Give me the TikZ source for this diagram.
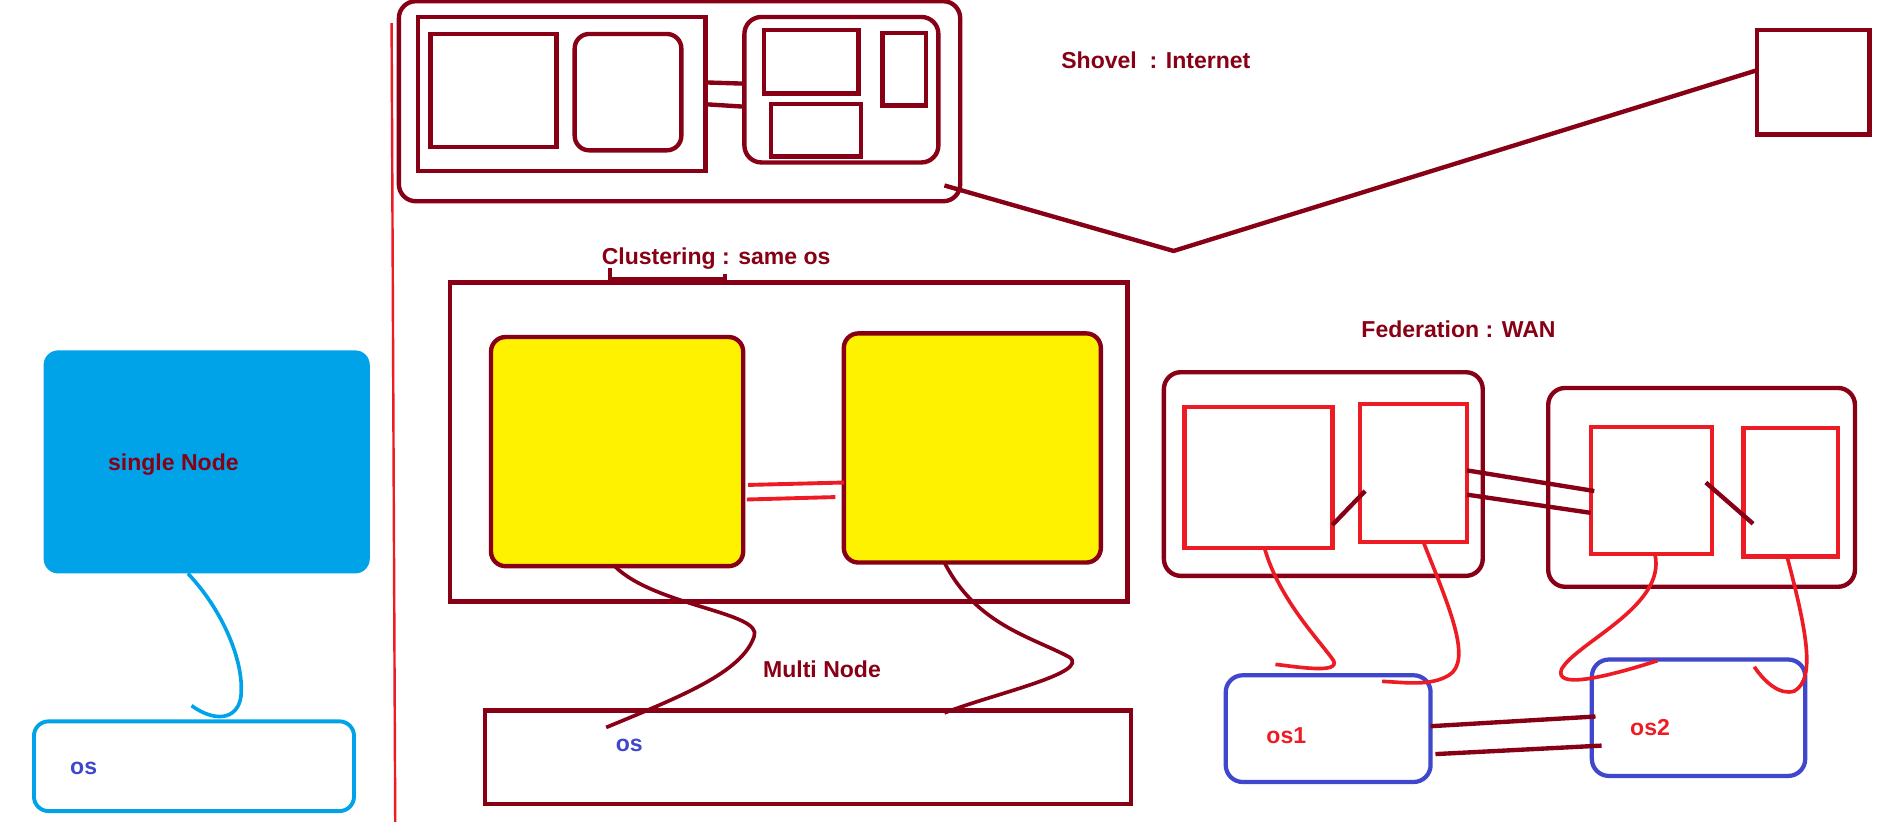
\documentclass[tikz,border=0pt]{standalone}
\usepackage{fontspec}
\setmainfont{Liberation Sans}
\usetikzlibrary{fit}
\definecolor{dkred}{HTML}{880015}
\definecolor{brred}{HTML}{ED1C24}
\definecolor{ylw}{HTML}{FFF200}
\definecolor{ltblue}{HTML}{00A2E8}
\definecolor{dkblue}{HTML}{3F48CC}
\tikzset{
  fitbox/.style={inner sep=0pt, outer sep=0pt},
  dbox/.style={fitbox, draw=dkred, line width=1.8pt},
  rbox/.style={fitbox, draw=brred, line width=1.75pt},
  bbox/.style={fitbox, draw=dkblue, line width=1.75pt, rounded corners=7pt},
  round/.style={rounded corners=7pt},
  dline/.style={draw=dkred, line width=1.8pt},
  rline/.style={draw=brred, line width=1.5pt},
  lbl/.style={font=\fontsize{9.5}{11}\selectfont\bfseries, inner sep=0pt},
}
\begin{document}
\begin{tikzpicture}[x=0.5pt,y=-0.5pt]
\useasboundingbox (0,0) rectangle (1568,678);
\fill[white] (0,0) rectangle (1568,678);

% red divider
\coordinate (divtop) at (323,19);
\coordinate (divbot) at (326,678);
\draw[brred, line width=1pt] (divtop) -- (divbot);

% ---------- Shovel ----------
\node[dbox, round, fit={(329,1) (792,166)}] (top) {};
\node[dbox, fit={(345,14) (582,141)}] (topL) {};
\node[dbox, fit={(355,28) (459,121)}] (topLa) {};
\node[dbox, rounded corners=6pt, fit={(474,28) (562,124)}] (topLb) {};
\node[dbox, round, fit={(614,14) (774,134)}] (topR) {};
\node[dbox, fit={(630,25) (708,77)}] (topRa) {};
\node[dbox, fit={(728,27) (764,87)}] (topRb) {};
\node[dbox, fit={(636,86) (710,129)}] (topRc) {};
\draw[dline] (topL.east |- 0,68) -- (topR.west |- 0,69);
\draw[dline] (topL.east |- 0,86) -- (topR.west |- 0,88);

\node[dbox, fit={(1449,25) (1542,111)}] (far) {};
\coordinate (vee) at (968,207);
\draw[dline] ([xshift=-6.5pt,yshift=6.5pt]top.south east) -- (vee) -- (far.west |- 0,58);
\node[lbl, text=dkred, anchor=west] (shovel) at (875,50) {Shovel\ \ : Internet};

% ---------- Clustering ----------
\node[lbl, text=dkred, anchor=west] (clus) at (496,213) {Clustering : same os};
\node[dbox, fit={(371,233) (930,496)}] (cbox) {};
\draw[dline] (503,221) -- (503,230) -- (598,230);
\draw[dline] (598,226) -- (598,231);
\node[dbox, fill=ylw, rounded corners=6pt, fit={(405,278) (613,467)}] (y1) {};
\node[dbox, fill=ylw, rounded corners=6pt, fit={(696,275) (908,464)}] (y2) {};
\draw[rline, line width=1.6pt] (617,400) -- (y2.west |- 0,398);
\draw[rline, line width=1.6pt] (616,412) -- (689,410);

\node[dbox, fit={(400,586) (933,663)}] (mbox) {};
\node[lbl, text=dkred] (multi) at (678,552) {Multi Node};
\node[lbl, text=dkblue] (mos) at (519,615) {os};
\coordinate (c1end) at (500,600);
\coordinate (c2end) at (779,588);
\draw[dline, line width=1.5pt] (y1.south -| 507,0) .. controls (540,500) and (630,505) .. (622,525) .. controls (612,555) and (560,575) .. (c1end);
\draw[dline, line width=1.5pt] (y2.south -| 779,0) .. controls (805,515) and (850,525) .. (882,542) .. controls (900,555) and (820,572) .. (c2end);

% ---------- Single node ----------
\node[fitbox, fill=ltblue, rounded corners=6pt, fit={(36,289) (305,473)}] (sn) {};
\node[lbl, text=dkred] (snl) at (143,383) {single Node};
\node[fitbox, draw=ltblue, line width=1.6pt, rounded corners=6pt, fit={(28,595) (292,669)}] (sos) {};
\node[lbl, text=dkblue] (sosl) at (69,634) {os};
\coordinate (hook) at (158,582);
\draw[draw=ltblue, line width=1.5pt] (sn.south -| 155,0) .. controls (185,505) and (200,545) .. (199,570) .. controls (199,592) and (180,598) .. (hook);

% ---------- Federation ----------
\node[lbl, text=dkred] (fed) at (1203,272) {Federation : WAN};
\node[dbox, round, fit={(960,307) (1223,475)}] (f1) {};
\node[rbox, fit={(977,336) (1099,452)}] (f1a) {};
\node[rbox, fit={(1122,333) (1210,447)}] (f1b) {};
\draw[dline] (f1a.east |- 0,433) -- (1126,405);
\node[dbox, round, fit={(1277,320) (1530,484)}] (f2) {};
\node[rbox, fit={(1312,352) (1412,457)}] (f2a) {};
\node[rbox, fit={(1438,353) (1516,459)}] (f2b) {};
\draw[dline] (1407,398) -- (1446,432);
\draw[dline] (f1b.east |- 0,388) -- (1315,405);
\draw[dline] (f1b.east |- 0,408) -- (f2a.west |- 0,423);

\node[bbox, fit={(1011,557) (1180,645)}] (os1) {};
\node[bbox, fit={(1313,544) (1489,640)}] (os2) {};
\node[lbl, text=brred] (os1l) at (1061,607) {os1};
\node[lbl, text=brred] (os2l) at (1361,600) {os2};
\draw[dline] (os1.east |- 0,599) -- (1316,591);
\draw[dline] (1184,622) -- (1321,615);

\coordinate (ha) at (1052,548);
\coordinate (hb) at (1140,562);
\coordinate (hc) at (1367,545);
\coordinate (hd) at (1447,550);
\draw[rline] (f1a.south -| 1043,0) .. controls (1055,495) and (1090,530) .. (1100,545) .. controls (1105,556) and (1070,550) .. (ha);
\draw[rline] (f1b.south -| 1174,0) .. controls (1195,500) and (1215,545) .. (1195,557) .. controls (1180,566) and (1160,563) .. (hb);
\draw[rline] (f2a.south -| 1365,0) .. controls (1375,500) and (1300,530) .. (1288,552) .. controls (1282,568) and (1320,560) .. (hc);
\draw[rline] (f2b.south -| 1474,0) .. controls (1490,520) and (1498,560) .. (1480,570) .. controls (1468,574) and (1455,562) .. (hd);
\end{tikzpicture}
\end{document}
